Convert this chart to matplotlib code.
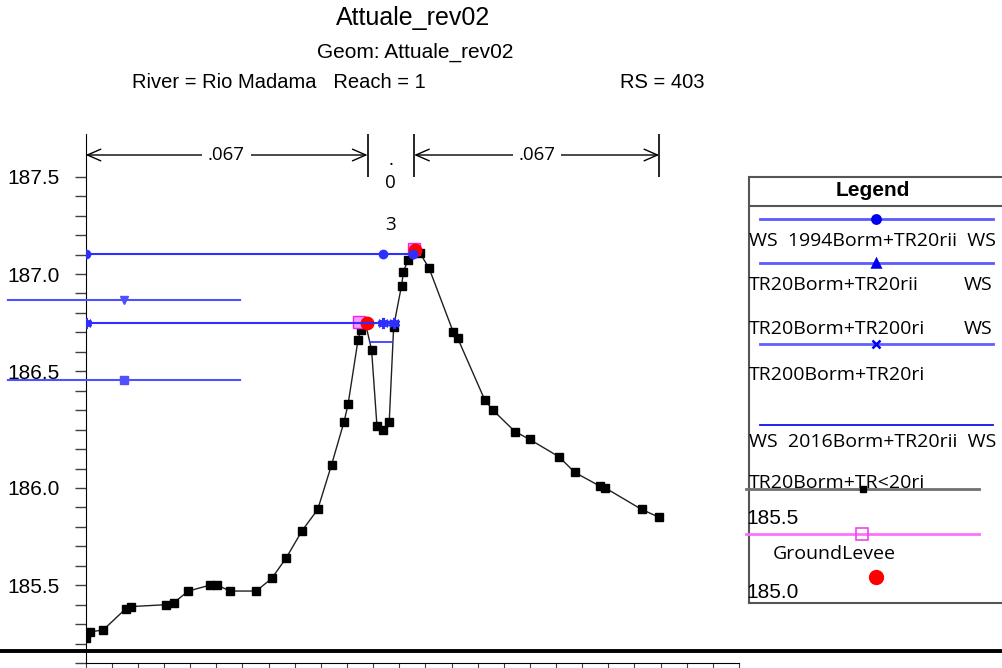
import matplotlib
matplotlib.use('Agg')
import matplotlib.pyplot as plt
import numpy as np

# ground profile (station, elevation)
ground_sta = [0.0, 0.33, 1.34, 3.08, 3.46, 6.18, 6.74, 7.86, 9.49, 10.05, 11.07, 13.05,
              14.24, 15.34, 16.56, 17.76, 18.82, 19.77, 20.08, 20.84, 21.04, 21.40, 21.88,
              22.29, 22.73, 23.23, 23.57, 24.17, 24.32, 24.63, 25.14, 25.56, 26.28, 28.14,
              28.47, 30.56, 31.17, 32.85, 33.97, 36.23, 37.43, 39.34, 39.77, 42.54, 43.86]
ground_elev = [185.13, 185.16, 185.17, 185.28, 185.29, 185.30, 185.31, 185.37, 185.40, 185.40,
               185.37, 185.37, 185.435, 185.54, 185.68, 185.79, 186.02, 186.24, 186.33, 186.66,
               186.71, 186.75, 186.61, 186.22, 186.20, 186.24, 186.73, 186.94, 187.01, 187.07,
               187.12, 187.11, 187.03, 186.70, 186.67, 186.35, 186.30, 186.19, 186.15, 186.06,
               185.98, 185.91, 185.90, 185.79, 185.75]

# water surfaces
ws1994_sta = [0.0, 22.75, 25.05]
ws1994_elev = 187.105
ws_tr20_sta = [-5.91, 2.92, 11.83]
ws_tr20_elev = 186.864
ws_tr200_sta = [0.0, 22.72, 23.59]
ws_tr200_elev = 186.749
ws2016_sta = [-5.91, 2.92, 11.83]
ws2016_elev = 186.456
ws_chan_sta = [21.76, 23.48]
ws_chan_elev = 186.65

levee_sta = [20.89, 25.16]
levee_elev = [186.755, 187.13]
bank_sta = [21.53, 25.17]
bank_elev = [186.749, 187.126]

# manning n brackets
n_bounds = [0.0, 21.57, 25.14, 43.89]
n_vals = ['.067', '.03', '.067']

ytick_pos = [187.5, 187.0, 186.5, 185.9, 185.4]
ytick_labels = ['187.5', '187.0', '186.5', '186.0', '185.5']

W, H = 1002, 668
fig = plt.figure(figsize=(W / 100, H / 100), dpi=100)


def px_box(l, t, r, b):
    return [l / W, 1 - b / H, (r - l) / W, (b - t) / H]


ax = fig.add_axes(px_box(85.7, 134, 739, 663))
ax.set_xlim(0, 50)
ax.set_ylim(185.0, 187.72)
for s in ['top', 'right']:
    ax.spines[s].set_visible(False)
ax.set_xticks(np.arange(0, 51, 2))
ax.tick_params(axis='x', direction='out', length=8, color='#404040', labelbottom=False)
ax.set_yticks(ytick_pos, ytick_labels)
ax.set_yticks(np.round(np.arange(185.0, 187.51, 0.1), 2), minor=True)
ax.tick_params(axis='y', which='both', length=8, width=1, color='#404040', pad=11)
for lab in ax.get_yticklabels():
    lab.set_fontfamily('Liberation Sans')
    lab.set_fontsize(15)

blue = '#2e2eff'
lblue = '#5050ff'
ax.plot(ws1994_sta, [ws1994_elev] * 3, color=blue, lw=1.5, marker='o', ms=6, zorder=5)
ax.plot(ws_tr20_sta, [ws_tr20_elev] * 3, color=lblue, lw=1.5, marker='v', ms=6,
        markevery=[1], clip_on=False, zorder=4)
ax.plot(ws_tr200_sta, [ws_tr200_elev] * 3, color=blue, lw=1.5, marker=(6, 2, 0), ms=8,
        mew=2.2, zorder=6)
ax.plot(ws2016_sta, [ws2016_elev] * 3, color=lblue, lw=1.5, marker='s', ms=5.5,
        markevery=[1], clip_on=False, zorder=4)
ax.plot(ws_chan_sta, [ws_chan_elev] * 2, color=blue, lw=1.2, zorder=4)

ax.plot(ground_sta, ground_elev, color='#202020', lw=1, marker='s', ms=5.5,
        mfc='black', mec='black', zorder=3)
ax.plot(levee_sta, levee_elev, ls='none', marker='s', ms=8, mfc='#ff99ff',
        mec='#ee22ee', mew=1, zorder=4)
ax.plot(bank_sta, bank_elev, ls='none', marker='o', ms=9, color='red', zorder=5)
# put the right WS dot back on top of the bank marker
ax.plot(ws1994_sta[-1:], [ws1994_elev], ls='none', marker='o', ms=6, color=blue, zorder=7)

# thick horizontal line across the whole picture
ax.axhline(185.064, xmin=-85.7 / 653.3, xmax=(W - 85.7) / 653.3, color='black', lw=2.8,
           clip_on=False)

# n-value brackets
arrow_z = 187.612
ax.vlines(n_bounds, 187.5, 187.72, color='black', lw=1.2)
for i in [0, 2]:
    ax.annotate('', xy=(n_bounds[i], arrow_z), xytext=(n_bounds[i + 1], arrow_z),
                arrowprops=dict(arrowstyle='<->,head_length=0.8,head_width=0.35',
                                lw=1, color='black', shrinkA=0, shrinkB=0, mutation_scale=12))
    ax.text((n_bounds[i] + n_bounds[i + 1]) / 2, arrow_z, n_vals[i], ha='center', va='center',
            fontsize=13.5, family='Open Sans',
            bbox=dict(fc='white', ec='none', pad=4))
mid = (n_bounds[1] + n_bounds[2]) / 2
for ch, z in zip(n_vals[1], [187.56, 187.442, 187.225]):
    ax.text(mid, z, ch, ha='center', va='baseline', fontsize=13.5, family='Open Sans')

# overlay in pixel units for titles and the legend box
ov = fig.add_axes([0, 0, 1, 1], zorder=10)
ov.set_xlim(0, W)
ov.set_ylim(H, 0)
ov.axis('off')

ov.text(413.5, 18, 'Attuale_rev02', ha='center', va='center', fontsize=18, family='Liberation Sans')
ov.text(415, 52, 'Geom: Attuale_rev02', ha='center', va='center', fontsize=15,
        family='Liberation Sans')
ov.text(131.7, 82, 'River = Rio Madama   Reach = 1', ha='left', va='center', fontsize=14.5,
        family='Liberation Sans')
ov.text(620, 82, 'RS = 403', ha='left', va='center', fontsize=14.5, family='Liberation Sans')

# legend box
box_col = '#555555'
ov.plot([749, 749], [177, 603], color=box_col, lw=1.5)
ov.plot([749, W], [177, 177], color=box_col, lw=1.5)
ov.plot([749, W], [206, 206], color=box_col, lw=1.5)
ov.plot([749, W], [603, 603], color=box_col, lw=1.5)
ov.text(873, 190.5, 'Legend', ha='center', va='center', fontsize=15, fontweight='bold',
        family='Liberation Sans')

leg_lines_y = [219.3, 262.7, 343.5, 425]
leg_markers = ['o', '^', 'x', None]
leg_colors = ['#5a5aff', '#5a5aff', '#6060ff', '#1010ee']
leg_lw = [2, 2, 2, 1.3]
for y, m, c, lw in zip(leg_lines_y, leg_markers, leg_colors, leg_lw):
    ov.plot([760, 992.7], [y, y], color=c, lw=lw)
    if m:
        ov.plot([875.7], [y], marker=m, ms=6, color='#0000ee', mew=1.8, ls='none')

leg_texts = [(749, 240.7, 'WS  1994Borm+TR20rii  WS'),
             (749, 285, 'TR20Borm+TR20rii'),
             (749, 329.3, 'TR20Borm+TR200ri'),
             (749, 375, 'TR200Borm+TR20ri'),
             (749, 441.7, 'WS  2016Borm+TR20rii  WS'),
             (749, 483.3, 'TR20Borm+TR<20ri'),
             (773, 554, 'GroundLevee')]
for x, y, t in leg_texts:
    ov.text(x, y, t, ha='left', va='center', fontsize=14, family='Open Sans')
for y in [285, 329.3]:
    ov.text(992, y, 'WS', ha='right', va='center', fontsize=14, family='Open Sans')

ov.plot([746, 978.7], [489, 489], color='#707070', lw=2)
ov.plot([862.7], [489], marker='s', ms=4.5, color='black', ls='none')
ov.plot([746, 978.7], [534, 534], color='#ff70ff', lw=2)
ov.plot([862], [534], marker='s', ms=9, mfc='none', mec='#ee44ee', mew=1.2, ls='none')
ov.plot([876], [576.7], marker='o', ms=10, color='red', ls='none')
ov.text(746, 518, '185.5', ha='left', va='center', fontsize=15, family='Liberation Sans')
ov.text(746, 593, '185.0', ha='left', va='center', fontsize=15, family='Liberation Sans')

fig.savefig('out.png', dpi=100)
